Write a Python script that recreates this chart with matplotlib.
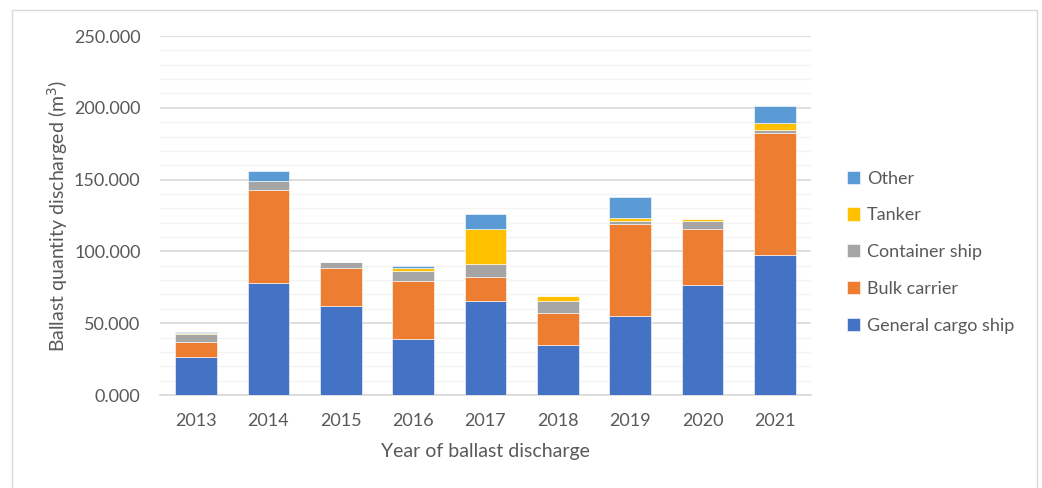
import numpy as np
import matplotlib.pyplot as plt
from matplotlib.patches import Rectangle
from matplotlib.ticker import FuncFormatter, MultipleLocator

plt.rcParams['font.family'] = ['Lato', 'DejaVu Sans']

years = ['2013', '2014', '2015', '2016', '2017', '2018', '2019', '2020', '2021']
series = ['General cargo ship', 'Bulk carrier', 'Container ship', 'Tanker', 'Other']
general_cargo = [26.5, 78.0, 62.0, 39.0, 65.7, 35.0, 55.2, 76.6, 97.5]
bulk_carrier = [10.5, 65.0, 26.7, 40.4, 16.7, 21.9, 63.9, 38.8, 85.2]
container_ship = [5.5, 6.0, 3.9, 7.0, 8.8, 8.6, 2.1, 5.6, 2.0]
tanker = [1.0, 0.0, 0.0, 2.3, 24.6, 3.7, 2.1, 1.3, 4.7]
other = [0.2, 7.0, 0.0, 1.1, 10.2, 0.0, 14.4, 0.0, 12.1]
colors = ['#4472C4', '#ED7D31', '#A5A5A5', '#FFC000', '#5B9BD5']

values = [general_cargo, bulk_carrier, container_ship, tanker, other]
text_col = '#595959'

fig = plt.figure(figsize=(10.42, 4.88), dpi=100)
ax = fig.add_axes([160 / 1042, 93 / 488, 651 / 1042, 359 / 488])

x = np.arange(len(years))
bottom = np.zeros(len(years))
for name, vals, c in zip(series, values, colors):
    vals = np.array(vals)
    ax.bar(x, vals, 0.58, bottom=bottom, color=c, edgecolor='white',
           linewidth=0.4, label=name, zorder=3)
    bottom += vals

ax.set_xlim(-0.5, len(years) - 0.5)
ax.set_ylim(0, 250)
ax.yaxis.set_major_locator(MultipleLocator(50))
ax.yaxis.set_minor_locator(MultipleLocator(10))
ax.yaxis.set_major_formatter(FuncFormatter(lambda v, p: f'{v:.3f}'))
ax.grid(axis='y', which='major', color='#d9d9d9', linewidth=1.2, zorder=0)
ax.grid(axis='y', which='minor', color='#f4f4f4', linewidth=1.0, zorder=0)
ax.set_xticks(x)
ax.set_xticklabels(years)
ax.tick_params(axis='both', which='both', length=0, colors=text_col, labelsize=13)
ax.tick_params(axis='x', pad=13)
ax.tick_params(axis='y', pad=14)
for s in ['top', 'right', 'left']:
    ax.spines[s].set_visible(False)
ax.spines['bottom'].set_color('#d9d9d9')
ax.spines['bottom'].set_linewidth(1.2)

ax.set_xlabel('Year of ballast discharge', color=text_col, fontsize=14, labelpad=10)
ax.set_ylabel('Ballast quantity discharged (m$^3$)', color=text_col, fontsize=14, labelpad=3)

handles, labels = ax.get_legend_handles_labels()
leg = ax.legend(handles[::-1], labels[::-1], loc='center left',
                bbox_to_anchor=(1.03, 0.398), frameon=False, fontsize=13,
                labelcolor=text_col, handlelength=0.75, handleheight=0.75,
                handletextpad=0.35, labelspacing=1.15)

# outer chart frame
fig.patches.append(Rectangle((12 / 1042, -0.1), 1025 / 1042, 1.1 - 10 / 488,
                             transform=fig.transFigure, fill=False,
                             edgecolor='#d9d9d9', linewidth=1.0))

fig.savefig('out.png', dpi=100)
